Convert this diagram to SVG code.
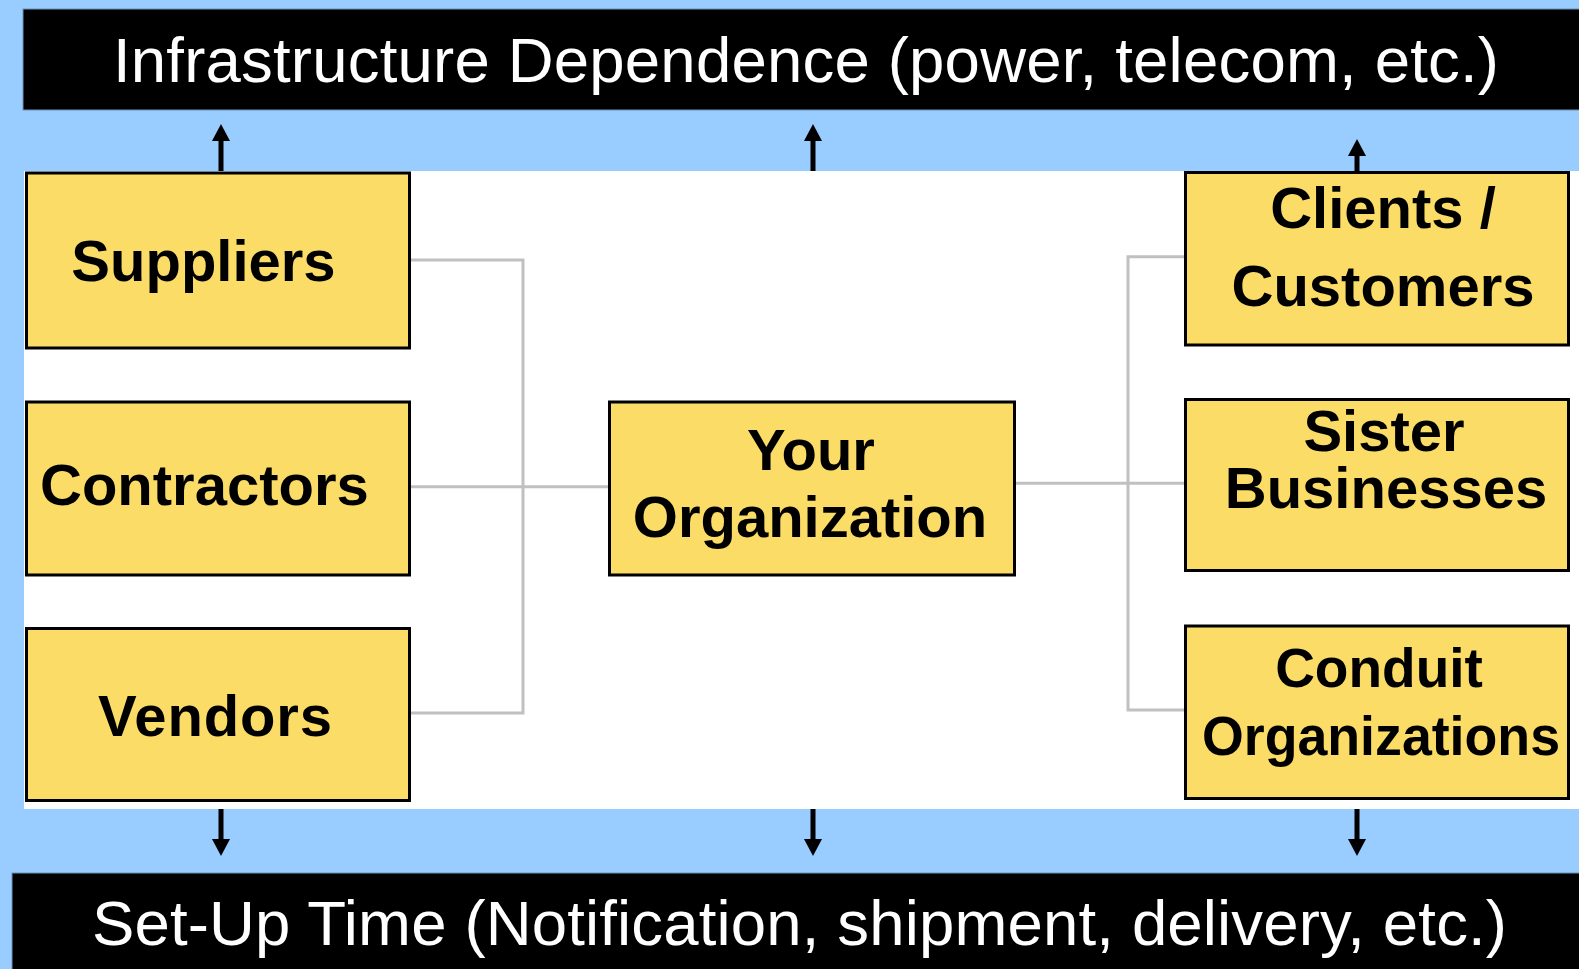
<svg xmlns="http://www.w3.org/2000/svg" width="1579" height="969" viewBox="0 0 1579 969">
  <style>
    .bar { fill: #000000; stroke: #6f93b8; stroke-width: 1; }
    .bar-text { fill: #ffffff; font-family: "Liberation Sans", Arial, sans-serif; font-size: 63.5px; }
    .box { fill: #FADC66; stroke: #000000; stroke-width: 3; }
    .label { fill: #000000; font-family: "Liberation Sans", Arial, sans-serif; font-weight: bold; font-size: 58px; }
    .link { fill: none; stroke: #C0C0C0; stroke-width: 3; }
    .flow { stroke: #000000; stroke-width: 5; marker-end: url(#head); }
  </style>
  <defs>
    <marker id="head" markerUnits="userSpaceOnUse" markerWidth="18" markerHeight="18" viewBox="0 0 18 18" refX="1" refY="9" orient="auto">
      <path d="M0,0 L17,9 L0,18 Z" fill="#000000"/>
    </marker>
  </defs>

  <!-- backdrop -->
  <rect x="0" y="0" width="1579" height="969" fill="#99CCFF"/>
  <rect x="24" y="171" width="1555" height="638" fill="#ffffff"/>

  <!-- top band -->
  <g id="infrastructure">
    <rect class="bar" x="23" y="9" width="1560" height="101"/>
    <text class="bar-text" x="113" y="81.5" textLength="1386">Infrastructure Dependence (power, telecom, etc.)</text>
  </g>

  <!-- bottom band -->
  <g id="setup-time">
    <rect class="bar" x="12" y="873" width="1571" height="100"/>
    <text class="bar-text" x="92" y="945" textLength="1415">Set-Up Time (Notification, shipment, delivery, etc.)</text>
  </g>

  <!-- connectors -->
  <g id="connectors">
    <path class="link" d="M411,260 H523 V713 H411"/>
    <path class="link" d="M411,486.7 H608"/>
    <path class="link" d="M1016,483.3 H1184"/>
    <path class="link" d="M1184,256.7 H1128 V710 H1184"/>
    <line class="flow" x1="221" y1="171" x2="221" y2="140"/>
    <line class="flow" x1="813" y1="171" x2="813" y2="140"/>
    <line class="flow" x1="1357" y1="171" x2="1357" y2="155"/>
    <line class="flow" x1="221" y1="809" x2="221" y2="840"/>
    <line class="flow" x1="813" y1="809" x2="813" y2="840"/>
    <line class="flow" x1="1357" y1="809" x2="1357" y2="840"/>
  </g>

  <g id="suppliers">
    <rect class="box" x="26.5" y="173" width="383" height="175"/>
    <text class="label" x="203.5" y="281" text-anchor="middle">Suppliers</text>
  </g>
  <g id="contractors">
    <rect class="box" x="26.5" y="402" width="383" height="173"/>
    <text class="label" x="40" y="505">Contractors</text>
  </g>
  <g id="vendors">
    <rect class="box" x="26.5" y="628.5" width="383" height="172"/>
    <text class="label" x="98" y="736" textLength="234">Vendors</text>
  </g>
  <g id="your-organization">
    <rect class="box" x="609.5" y="402" width="405" height="173"/>
    <text class="label" x="811" y="470" text-anchor="middle">Your</text>
    <text class="label" x="810" y="536.7" text-anchor="middle">Organization</text>
  </g>
  <g id="clients-customers">
    <rect class="box" x="1185.5" y="172.5" width="383" height="172.5"/>
    <text class="label" x="1383" y="228.3" text-anchor="middle">Clients /</text>
    <text class="label" x="1383" y="306" text-anchor="middle">Customers</text>
  </g>
  <g id="sister-businesses">
    <rect class="box" x="1185.5" y="399.5" width="383" height="171"/>
    <text class="label" x="1384" y="451" text-anchor="middle">Sister</text>
    <text class="label" x="1386" y="508" text-anchor="middle">Businesses</text>
  </g>
  <g id="conduit-organizations">
    <rect class="box" x="1185.5" y="626" width="383" height="172.5"/>
    <text class="label" x="1379" y="687" text-anchor="middle" style="font-size:55px">Conduit</text>
    <text class="label" x="1381" y="755" text-anchor="middle" style="font-size:55px" textLength="358" lengthAdjust="spacingAndGlyphs">Organizations</text>
  </g>
</svg>
